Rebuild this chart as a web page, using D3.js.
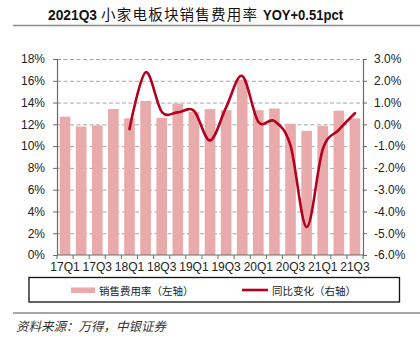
<!DOCTYPE html>
<html>
<head>
<meta charset="utf-8">
<script src="https://cdn.jsdelivr.net/npm/d3@7"></script>
<style>
  html, body { margin: 0; padding: 0; background: #fff; }
  svg { display: block; }
  text { font-family: "Liberation Sans", Arial, "Noto Sans CJK SC", sans-serif; }
</style>
</head>
<body>
<svg id="chart" width="420" height="350"></svg>
<script>
// Quarterly categories
const quarters = ["17Q1","17Q2","17Q3","17Q4","18Q1","18Q2","18Q3","18Q4",
                  "19Q1","19Q2","19Q3","19Q4","20Q1","20Q2","20Q3","20Q4",
                  "21Q1","21Q2","21Q3"];
// Selling expense ratio (%), left axis
const expenseRatio = [12.7, 11.8, 11.9, 13.4, 12.55, 14.15, 12.6, 13.9,
                      13.15, 13.4, 13.3, 16.1, 13.3, 13.45, 12.05, 11.4,
                      11.85, 13.25, 12.55];
// Year-over-year change (pct points), right axis; starts at 18Q1
const yoyQuarters = quarters.slice(4);
const yoyChange = [-0.22, 2.39, 0.58, 0.55, 0.62, -0.74, 0.78, 2.22,
                   0.12, 0.15, -0.98, -4.72, -1.15, -0.25, 0.51];
// Axis ticks
const leftTicks = [0, 2, 4, 6, 8, 10, 12, 14, 16, 18];
const rightTicks = [-6, -5, -4, -3, -2, -1, 0, 1, 2, 3];
const xLabelQuarters = quarters.filter((d, i) => i % 2 === 0);

const svg = d3.select("#chart");
const plot = { left: 57, right: 363, top: 59, bottom: 255 };
const narrow = "'Liberation Sans Narrow', 'Arial Narrow', 'Liberation Sans', sans-serif";
const cjk = "'Noto Sans CJK SC', sans-serif";

const x = d3.scaleBand().domain(quarters).range([plot.left, plot.right]).paddingInner(0.34).paddingOuter(0.17);
const yL = d3.scaleLinear().domain([0, 18]).range([plot.bottom, plot.top]);
const yR = d3.scaleLinear().domain([-6, 3]).range([plot.bottom, plot.top]);

// Title: latin parts bold, Chinese part set separately, each fitted to its span
const title = svg.append("g").attr("fill", "#111");
title.append("text").attr("x", 48).attr("y", 20)
  .attr("font-size", 14).attr("font-weight", "bold")
  .attr("textLength", 49).attr("lengthAdjust", "spacingAndGlyphs")
  .text("2021Q3");
title.append("text").attr("x", 101).attr("y", 20)
  .attr("font-family", cjk).attr("font-size", 14.5)
  .attr("textLength", 156).attr("lengthAdjust", "spacing")
  .text("小家电板块销售费用率");
title.append("text").attr("x", 263).attr("y", 20)
  .attr("font-size", 14).attr("font-weight", "bold")
  .attr("textLength", 80).attr("lengthAdjust", "spacingAndGlyphs")
  .text("YOY+0.51pct");

svg.append("line").attr("x1", 13).attr("x2", 420).attr("y1", 25.5).attr("y2", 25.5)
  .attr("stroke", "#8a8a8a").attr("stroke-width", 1.5);

// Gridlines
svg.append("g").selectAll("line").data(leftTicks.filter(d => d > 0)).join("line")
  .attr("x1", plot.left).attr("x2", plot.right)
  .attr("y1", d => yL(d) + 0.5).attr("y2", d => yL(d) + 0.5)
  .attr("stroke", "#a6a6a6").attr("stroke-width", 1).attr("stroke-dasharray", "4,2.5");

// Bars
svg.append("g").selectAll("rect").data(quarters).join("rect")
  .attr("x", d => x(d))
  .attr("width", x.bandwidth())
  .attr("y", (d, i) => yL(expenseRatio[i]))
  .attr("height", (d, i) => yL(0) - yL(expenseRatio[i]))
  .attr("fill", "#e8aaaa");

// YoY line
const line = d3.line()
  .x((d, i) => x(yoyQuarters[i]) + x.bandwidth() / 2)
  .y(d => yR(d))
  .curve(d3.curveCardinal.tension(0));
svg.append("path").datum(yoyChange)
  .attr("d", line)
  .attr("fill", "none").attr("stroke", "#b5001e").attr("stroke-width", 2.6)
  .attr("stroke-linecap", "round");

// Left axis
const axisColor = "#6b6b6b";
const gL = svg.append("g").attr("transform", `translate(${plot.left},0)`)
  .call(d3.axisLeft(yL).tickValues(leftTicks).tickFormat(d => d + "%").tickSize(4).tickPadding(8));
// Right axis
const gR = svg.append("g").attr("transform", `translate(${plot.right},0)`)
  .call(d3.axisRight(yR).tickValues(rightTicks).tickFormat(d => d.toFixed(1) + "%").tickSize(4).tickPadding(7));
// Bottom axis: ticks at category boundaries, labels on every other quarter
const gB = svg.append("g").attr("transform", `translate(0,${plot.bottom})`);
gB.append("line").attr("x1", plot.left).attr("x2", plot.right).attr("y1", 0).attr("y2", 0)
  .attr("stroke", axisColor).attr("stroke-width", 1.2);
const step = (plot.right - plot.left) / quarters.length;
gB.selectAll("line.tick").data(d3.range(quarters.length + 1)).join("line")
  .attr("class", "tick")
  .attr("x1", i => plot.left + i * step).attr("x2", i => plot.left + i * step)
  .attr("y1", 0).attr("y2", 4)
  .attr("stroke", axisColor).attr("stroke-width", 1);
gB.selectAll("text").data(xLabelQuarters).join("text")
  .attr("x", d => x(d) + x.bandwidth() / 2)
  .attr("y", 16)
  .attr("text-anchor", "middle")
  .attr("font-family", narrow)
  .attr("font-size", 12).attr("fill", "#222")
  .text(d => d);

[gL, gR].forEach(g => {
  g.select(".domain").attr("stroke", axisColor).attr("stroke-width", 1.2);
  g.selectAll(".tick line").attr("stroke", axisColor);
  g.selectAll(".tick text").attr("font-size", 12).attr("fill", "#222")
    .attr("font-family", narrow);
});

// Legend
svg.append("rect").attr("x", 29).attr("y", 277.5).attr("width", 370.5).attr("height", 24.5)
  .attr("fill", "#fff").attr("stroke", "#111").attr("stroke-width", 1.3);
svg.append("rect").attr("x", 71).attr("y", 287.5).attr("width", 24).attr("height", 5.5).attr("fill", "#e8aaaa");
svg.append("text").attr("x", 99).attr("y", 294.5).attr("font-size", 10.5).attr("fill", "#222")
  .attr("font-family", cjk)
  .text("销售费用率（左轴）");
svg.append("line").attr("x1", 242).attr("x2", 268).attr("y1", 290).attr("y2", 290)
  .attr("stroke", "#b5001e").attr("stroke-width", 2.6);
svg.append("text").attr("x", 272).attr("y", 294.5).attr("font-size", 10.5).attr("fill", "#222")
  .attr("font-family", cjk)
  .text("同比变化（右轴）");

// Footer
svg.append("line").attr("x1", 13).attr("x2", 420).attr("y1", 313).attr("y2", 313)
  .attr("stroke", "#8a8a8a").attr("stroke-width", 1.5);
svg.append("text").attr("x", 16).attr("y", 331)
  .attr("font-size", 12.5).attr("font-style", "italic").attr("fill", "#333")
  .attr("font-family", cjk)
  .text("资料来源：万得，中银证券");
</script>
</body>
</html>
